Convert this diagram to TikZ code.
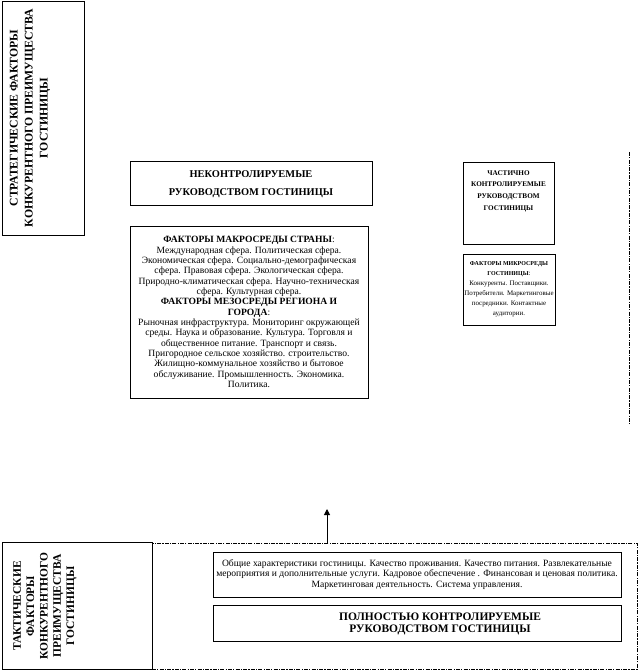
\documentclass[tikz,border=0pt]{standalone}
\usepackage{fontspec}
\setmainfont{Liberation Serif}
\usepackage{tikz}
\usetikzlibrary{arrows.meta,positioning}
\tikzset{
  hfbox/.style={draw=black, line width=0.75pt, inner sep=0pt, align=center},
  hftitle/.style={align=center, inner sep=0pt, font=\fontsize{8.8}{11.3}\selectfont\bfseries},
  hfhead/.style={hfbox, font=\fontsize{7.8}{13.5}\selectfont\bfseries},
  hfsmallhead/.style={align=center, inner sep=0pt, font=\fontsize{5.4}{8.8}\selectfont\bfseries},
  hftext/.style={hfbox, font=\fontsize{7.2}{7.75}\selectfont},
  hfzone/.style={line width=0.75pt, dash pattern=on 3pt off 0.9pt on 0.9pt off 0.9pt},
  hfarrow/.style={-{Triangle[length=4.5pt,width=4.5pt]}, line width=0.75pt}
}
\begin{document}
\begin{tikzpicture}[x=0.75pt,y=-0.75pt]
  \useasboundingbox (0,0) rectangle (638,670);
  % strategic level
  \node[hfbox, minimum width=61.5pt, minimum height=174.75pt] (strat) at (43,118.5) {};
  \node[hftitle, rotate=90] (strattxt) at (30,118) {СТРАТЕГИЧЕСКИЕ ФАКТОРЫ\\КОНКУРЕНТНОГО ПРЕИМУЩЕСТВА\\ГОСТИНИЦЫ};
  \node[hfhead, minimum width=181.5pt, minimum height=33pt] (uhead) at (251,184) {НЕКОНТРОЛИРУЕМЫЕ\\РУКОВОДСТВОМ ГОСТИНИЦЫ};
  \node[hftext, minimum width=178.5pt, minimum height=129pt] (macro) at (249,312)
    {\textbf{ФАКТОРЫ МАКРОСРЕДЫ СТРАНЫ}:\\Международная сфера. Политическая сфера.\\Экономическая сфера. Социально-демографическая\\сфера. Правовая сфера. Экологическая сфера.\\Природно-климатическая сфера. Научно-техническая\\сфера. Культурная сфера.\\\textbf{ФАКТОРЫ МЕЗОСРЕДЫ РЕГИОНА И}\\\textbf{ГОРОДА}:\\Рыночная инфраструктура. Мониторинг окружающей\\среды. Наука и образование. Культура. Торговля и\\общественное питание. Транспорт и связь.\\Пригородное сельское хозяйство. строительство.\\Жилищно-коммунальное хозяйство и бытовое\\обслуживание. Промышленность. Экономика.\\Политика.};
  \node[hfbox, minimum width=68.25pt, minimum height=60.75pt] (phead) at (508.5,203.5) {};
  \node[hfsmallhead] (pheadtxt) at (508.5,191) {ЧАСТИЧНО\\КОНТРОЛИРУЕМЫЕ\\РУКОВОДСТВОМ\\ГОСТИНИЦЫ};
  \node[hfbox, font=\fontsize{5.2}{7.5}\selectfont, minimum width=69pt, minimum height=53.25pt] (micro) at (509,289.5)
    {{\fontsize{4.5}{7.5}\selectfont\bfseries ФАКТОРЫ МИКРОСРЕДЫ}\\{\fontsize{4.5}{7.5}\selectfont\bfseries ГОСТИНИЦЫ}:\\Конкуренты. Поставщики.\\Потребители. Маркетинговые\\посредники. Контактные\\аудитории.};
  \coordinate (rimtop) at (629,152);
  \coordinate (rimbot) at (629,425);
  \draw[hfzone] (rimtop) -- (rimbot);
  % tactical level
  \node[hfbox, hfzone, minimum width=363.75pt, minimum height=94.5pt] (zone) at (394.5,606) {};
  \node[hfbox, minimum width=112.5pt, minimum height=95.25pt] (tact) at (77,605.5) {};
  \node[hftitle, rotate=90, font=\fontsize{8.6}{10}\selectfont\bfseries] (tacttxt) at (45,606) {ТАКТИЧЕСКИЕ\\ФАКТОРЫ\\КОНКУРЕНТНОГО\\ПРЕИМУЩЕСТВА\\ГОСТИНИЦЫ};
  \node[hftext, minimum width=306pt, minimum height=33.75pt] (gen) at (417,574.5)
    {Общие характеристики гостиницы. Качество проживания. Качество питания. Развлекательные\\мероприятия и дополнительные услуги. Кадровое обеспечение . Финансовая и ценовая политика.\\Маркетинговая деятельность. Система управления.};
  \node[hfbox, minimum width=306pt, minimum height=27pt] (fhead) at (417,623) {};
  \node[hftitle, font=\fontsize{8.6}{9.5}\selectfont\bfseries] (fheadtxt) at (440,624) {ПОЛНОСТЬЮ КОНТРОЛИРУЕМЫЕ\\РУКОВОДСТВОМ ГОСТИНИЦЫ};
  \coordinate (uptip) at (327,509);
  \draw[hfarrow] (zone.north -| uptip) -- (uptip);
\end{tikzpicture}
\end{document}
